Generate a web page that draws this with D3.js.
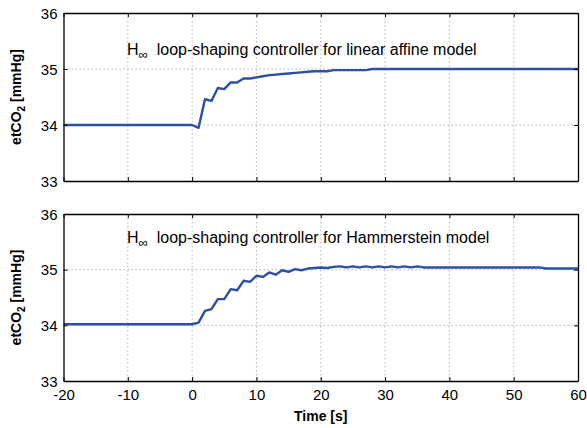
<!DOCTYPE html>
<html><head><meta charset="utf-8">
<script src="https://cdn.jsdelivr.net/npm/d3@7"></script>
<style>body{margin:0;background:#fff}svg{display:block;font-family:"Liberation Sans",Arial,sans-serif}</style>
</head><body><svg id="c" width="587" height="428"></svg>
<script>
const xTicks = [-20, -10, 0, 10, 20, 30, 40, 50, 60];
const yTicks = [33, 34, 35, 36];
const topTime = [-20, 0, 1, 2, 3, 4, 5, 6, 7, 8, 9, 10, 11, 12, 13, 14, 15, 16, 17, 18, 19, 20, 21, 22, 27, 28, 60];
const topValues = [34, 34, 33.95, 34.46, 34.43, 34.66, 34.64, 34.76, 34.76, 34.83, 34.83, 34.85, 34.87, 34.89, 34.9, 34.91, 34.92, 34.93, 34.94, 34.95, 34.96, 34.96, 34.96, 34.98, 34.98, 35.0, 35.0];
const botTime = [-20, 0, 1, 2, 3, 4, 5, 6, 7, 8, 9, 10, 11, 12, 13, 14, 15, 16, 17, 18, 19, 20, 21, 22, 23, 24, 25, 26, 27, 28, 29, 30, 31, 32, 33, 34, 35, 36, 37, 54, 55, 60];
const botValues = [34.02, 34.02, 34.05, 34.26, 34.29, 34.47, 34.47, 34.65, 34.63, 34.8, 34.78, 34.89, 34.87, 34.95, 34.91, 34.99, 34.96, 35.01, 34.99, 35.02, 35.03, 35.04, 35.03, 35.05, 35.06, 35.04, 35.06, 35.04, 35.06, 35.04, 35.06, 35.04, 35.06, 35.04, 35.06, 35.04, 35.06, 35.04, 35.04, 35.04, 35.02, 35.02];
const titles = ["loop-shaping controller for linear affine model", "loop-shaping controller for Hammerstein model"];

const svg = d3.select("#c");
const x = d3.scaleLinear().domain([-20, 60]).range([63.5, 578]);
const panels = [
  {top: 13, bottom: 181, t: topTime, v: topValues, title: titles[0], ty: 55},
  {top: 214, bottom: 381, t: botTime, v: botValues, title: titles[1], ty: 243}
];
const color = "#2b50a6";
const fmt = d => String(d);

panels.forEach((p, i) => {
  const y = d3.scaleLinear().domain([33, 36]).range([p.bottom, p.top]);
  const g = svg.append("g");
  g.selectAll(".gx").data(xTicks.slice(1, -1)).join("line")
    .attr("x1", d => x(d)).attr("x2", d => x(d)).attr("y1", p.top).attr("y2", p.bottom)
    .attr("stroke", "#b4b4b4").attr("stroke-width", 1).attr("stroke-dasharray", "1.5,2.5");
  g.selectAll(".gy").data(yTicks.slice(1, -1)).join("line")
    .attr("x1", x(-20)).attr("x2", x(60)).attr("y1", d => y(d)).attr("y2", d => y(d))
    .attr("stroke", "#b4b4b4").attr("stroke-width", 1).attr("stroke-dasharray", "1.5,2.5");
  const pts = p.t.map((t, k) => [t, p.v[k]]);
  g.append("path").datum(pts)
    .attr("d", d3.line().x(d => x(d[0])).y(d => y(d[1])))
    .attr("fill", "none").attr("stroke", color).attr("stroke-width", 2.4).attr("stroke-linejoin", "round");
  const axB = g.append("g").attr("transform", `translate(0,${p.bottom})`)
    .call(d3.axisBottom(x).tickValues(xTicks).tickSizeInner(-4).tickSizeOuter(0).tickPadding(8).tickFormat(i === 1 ? fmt : ""));
  const axT = g.append("g").attr("transform", `translate(0,${p.top})`)
    .call(d3.axisTop(x).tickValues(xTicks).tickSizeInner(-4).tickSizeOuter(0).tickFormat(""));
  const axL = g.append("g").attr("transform", `translate(${x(-20)},0)`)
    .call(d3.axisLeft(y).tickValues(yTicks).tickSizeInner(-4).tickSizeOuter(0).tickPadding(6).tickFormat(fmt));
  const axR = g.append("g").attr("transform", `translate(${x(60)},0)`)
    .call(d3.axisRight(y).tickValues(yTicks).tickSizeInner(-4).tickSizeOuter(0).tickFormat(""));
  [axB, axT, axL, axR].forEach(a => {
    a.select(".domain").attr("stroke", "#000").attr("stroke-width", 1.3);
    a.selectAll(".tick line").attr("stroke", "#000");
    a.selectAll("text").attr("font-size", 15).attr("fill", "#000").attr("font-family", "Liberation Sans, Arial, sans-serif");
  });
  axB.selectAll("text").attr("dy", "0.71em");
  axL.selectAll("text").attr("dx", "0").attr("dy", "0.35em");
  const tt = g.append("text").attr("x", 127).attr("y", p.ty).attr("font-size", 16).attr("fill", "#000");
  tt.append("tspan").text("H");
  tt.append("tspan").attr("font-size", 13).attr("dy", 4).text("∞");
  tt.append("tspan").attr("dy", -4).text("\u00a0 " + p.title);
  const yl = g.append("text").attr("transform", `translate(21,${(p.top + p.bottom) / 2}) rotate(-90)`)
    .attr("text-anchor", "middle").attr("font-size", 14).attr("font-weight", "bold").attr("fill", "#000");
  yl.append("tspan").text("etCO");
  yl.append("tspan").attr("font-size", 10).attr("dy", 4).text("2");
  yl.append("tspan").attr("dy", -4).text(" [mmHg]");
});
svg.append("text").attr("x", (x(-20) + x(60)) / 2).attr("y", 421).attr("text-anchor", "middle")
  .attr("font-size", 14).attr("font-weight", "bold").attr("fill", "#000").text("Time [s]");
</script></body></html>
